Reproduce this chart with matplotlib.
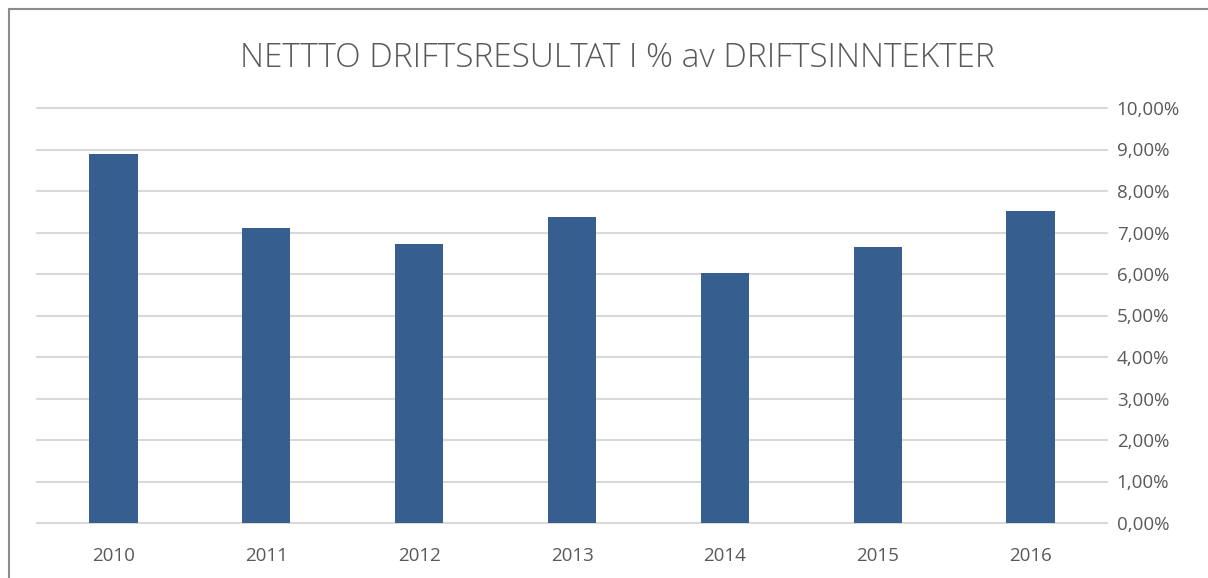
import matplotlib
matplotlib.use("Agg")
import matplotlib.pyplot as plt
from matplotlib.lines import Line2D
from matplotlib.ticker import FuncFormatter

years = ["2010", "2011", "2012", "2013", "2014", "2015", "2016"]
values = [8.89, 7.11, 6.72, 7.37, 6.02, 6.65, 7.52]  # percent
yticks = [0, 1, 2, 3, 4, 5, 6, 7, 8, 9, 10]
title = "NETTTO DRIFTSRESULTAT I % av DRIFTSINNTEKTER"

plt.rcParams['font.family'] = ['Open Sans', 'DejaVu Sans']

fig = plt.figure(figsize=(12.08, 5.78), dpi=100)
ax = fig.add_axes([37/1208, 1-523/578, (1107-37)/1208, (523-108)/578])

x = list(range(len(years)))
ax.bar(x, values, width=0.315, color="#365E8F", zorder=3)
ax.set_xlim(-0.5, len(years)-0.5)
ax.set_ylim(0, 10)
ax.set_yticks(yticks)
ax.yaxis.set_major_formatter(FuncFormatter(lambda v, p: f"{v:.2f}".replace(".", ",") + "%"))
ax.yaxis.tick_right()
ax.set_xticks(x)
ax.set_xticklabels(years)
ax.grid(axis='y', color="#D9D9D9", linewidth=1.5, zorder=0)
for gl in ax.get_ygridlines():
    gl.set_clip_on(False)
for s in ax.spines.values():
    s.set_visible(False)
ax.tick_params(axis='both', length=0, labelsize=13.5, labelcolor="#595959")
ax.tick_params(axis='y', pad=7)
ax.tick_params(axis='x', pad=17)

fig.text(617/1208, 1-58/578, title, ha='center', va='center', fontsize=24,
         color="#595959", fontweight='light')

# chart border (left and top)
fig.add_artist(Line2D([9/1208, 9/1208], [0, 1-9/578], transform=fig.transFigure,
                      color="#8C8C8C", linewidth=1.5))
fig.add_artist(Line2D([9/1208, 1], [1-9/578, 1-9/578], transform=fig.transFigure,
                      color="#8C8C8C", linewidth=1.5))

fig.savefig("out.png", dpi=100, facecolor="white")
